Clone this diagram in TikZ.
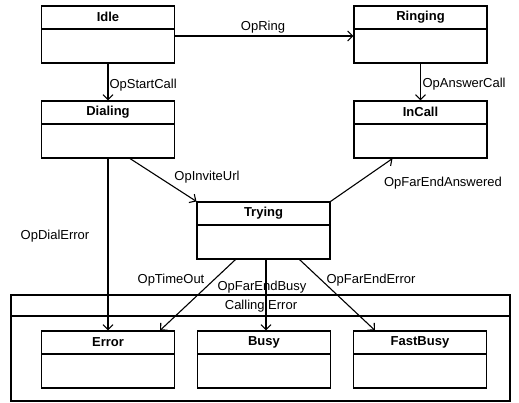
\documentclass[tikz,border=0pt]{standalone}
\usepackage{fontspec}
\setmainfont{Liberation Sans}
\usetikzlibrary{arrows.meta}
\begin{document}
\begin{tikzpicture}[x=1pt,y=-1pt,
  font=\fontsize{13pt}{15pt}\selectfont,
  every path/.style={line width=1.1pt},
  statebox/.style={draw, line width=1.1pt, minimum width=133pt, minimum height=57pt, inner sep=0pt,
    path picture={\draw[line width=1.1pt] ([yshift=-23pt]path picture bounding box.north west) -- ([yshift=-23pt]path picture bounding box.north east);},
    label={[anchor=center, yshift=-11.5pt, inner sep=0pt, font=\fontsize{13pt}{15pt}\selectfont\bfseries]north:#1}},
  trans/.style={draw, line width=1.1pt, -{Straight Barb[length=5pt,width=10pt,line width=1.1pt]}},
  lbl/.style={inner sep=0pt}
]
\useasboundingbox (0,0) rectangle (519,403);
% container
\node[draw, line width=1.1pt, minimum width=499pt, minimum height=106pt, inner sep=0pt] (calling) at (260.5,348) {};
\draw (calling.west |- 0,316) -- (calling.east |- 0,316);
\node[lbl] (callingt) at (261,306) {Calling Error};

% states
\node[statebox=Idle] (idle) at (108,34.5) {};
\node[statebox=Ringing] (ringing) at (420.5,34.5) {};
\node[statebox=Dialing] (dialing) at (108,129.5) {};
\node[statebox=InCall] (incall) at (420.5,129.5) {};
\node[statebox=Trying] (trying) at (263.5,230.5) {};
\node[statebox=Error] (error) at (108,359.5) {};
\node[statebox=Busy] (busy) at (264,359.5) {};
\node[statebox=FastBusy] (fastbusy) at (420,359.5) {};

% transitions
\draw[trans] ([yshift=-1.5pt]idle.east) -- ([yshift=-1.5pt]ringing.west);
\node[lbl] (l1) at (263,27) {OpRing};

\draw[trans] (idle.south) -- (dialing.north);
\node[lbl, anchor=west] (l2) at (109,85) {OpStartCall};

\draw[trans] (ringing.south) -- (incall.north);
\node[lbl, anchor=west] (l3) at (422,84) {OpAnswerCall};

\draw[trans] ([xshift=22pt]dialing.south) -- (trying.north west);
\node[lbl] (l4) at (207,177) {OpInviteUrl};

\draw[trans] (trying.north east) -- ([xshift=-28pt]incall.south);
\node[lbl] (l5) at (443,183) {OpFarEndAnswered};

\draw[trans] (dialing.south) -- (error.north);
\node[lbl] (l6) at (55,236) {OpDialError};

\draw[trans] ([xshift=-28pt]trying.south) -- ([xshift=52pt]error.north);
\node[lbl] (l7) at (171,280) {OpTimeOut};

\draw[trans] ([xshift=2.5pt]trying.south) -- ([xshift=2pt]busy.north);
\node[lbl] (l8) at (262,287) {OpFarEndBusy};

\draw[trans] ([xshift=36pt]trying.south) -- ([xshift=-45pt]fastbusy.north);
\node[lbl] (l9) at (371,280) {OpFarEndError};
\end{tikzpicture}
\end{document}
